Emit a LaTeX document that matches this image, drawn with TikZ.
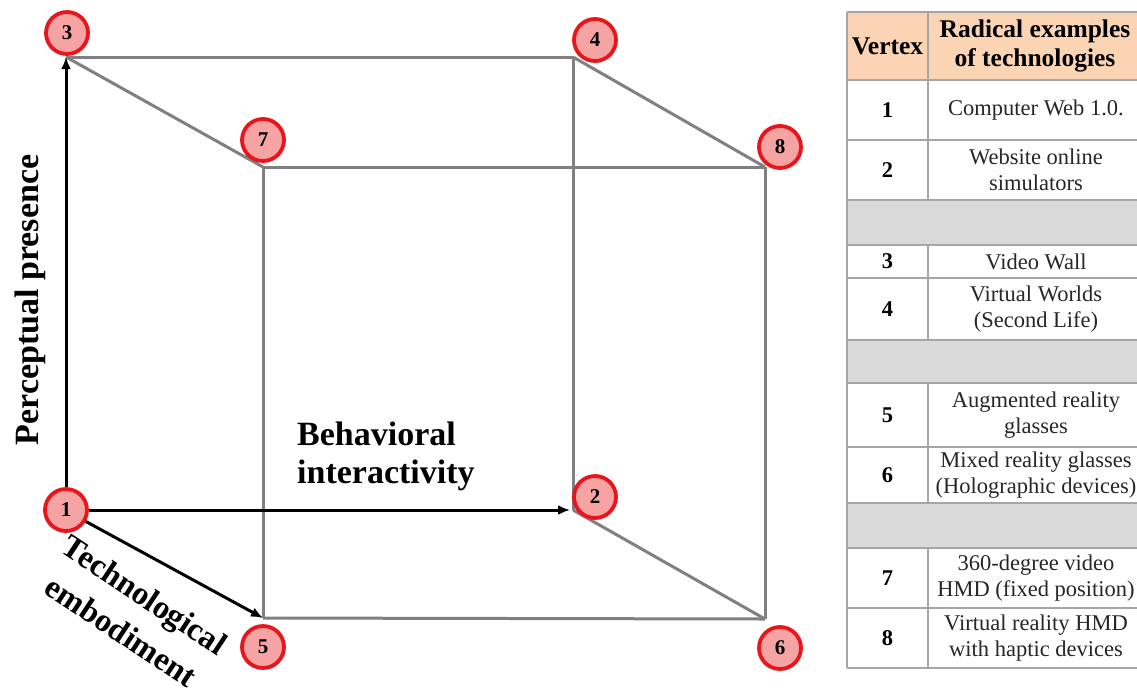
\documentclass[tikz,border=0pt]{standalone}
\usepackage{fontspec}
\setmainfont{Liberation Serif}
\usetikzlibrary{arrows.meta}
\definecolor{circred}{HTML}{E8161C}
\definecolor{circfill}{HTML}{F5A3A3}
\definecolor{edgegray}{HTML}{808080}
\definecolor{headfill}{HTML}{FBD4B4}
\definecolor{rowgray}{HTML}{DADADA}
\definecolor{rulegray}{HTML}{A6A6A6}
\begin{document}
\begin{tikzpicture}[x=1pt,y=-1pt,
 vc/.style={circle,draw=circred,line width=3.8pt,fill=circfill,minimum size=42pt,inner sep=0pt,font=\bfseries\fontsize{21}{21}\selectfont},
 edge/.style={draw=edgegray,line width=3pt},
 axis/.style={draw=black,line width=3pt,-{Latex[length=12pt,width=10pt]}},
 lab/.style={font=\bfseries\fontsize{34}{38}\selectfont,inner sep=0pt},
 cell/.style={font=\fontsize{22.5}{26}\selectfont,align=center,text=black!85,inner sep=0pt},
 num/.style={font=\bfseries\fontsize{22.5}{26}\selectfont,inner sep=0pt},
 head/.style={font=\bfseries\fontsize{25.5}{29}\selectfont,align=center,inner sep=0pt},
 rule/.style={draw=rulegray,line width=1.5pt}
]
\useasboundingbox (0,0) rectangle (1137,691);
% cube corners
\coordinate (v1) at (66,510);
\coordinate (v2) at (573,510);
\coordinate (v3) at (66,57);
\coordinate (v4) at (573,57);
\coordinate (v5) at (263,618);
\coordinate (v6) at (765,619);
\coordinate (v7) at (263,167);
\coordinate (v8) at (765,167);
% gray edges
\draw[edge] (v3) -- (v4);
\draw[edge] (v4) -- (v2);
\draw[edge] (v3) -- (v7);
\draw[edge] (v4) -- (v8);
\draw[edge] (v7) -- (v8);
\draw[edge] (v7) -- (v5);
\draw[edge] (v8) -- (v6);
\draw[edge] (v5) -- (v6);
\draw[edge] (v2) -- (v6);
% vertex circles
\node[vc] (c1) at (66,510) {1};
\node[vc] (c2) at (595,497) {2};
\node[vc] (c3) at (67,33) {3};
\node[vc] (c4) at (595,40) {4};
\node[vc] (c5) at (263,647) {5};
\node[vc] (c6) at (780,648) {6};
\node[vc] (c7) at (263,140) {7};
\node[vc] (c8) at (780,147) {8};
% axes
\draw[axis] (c1.north) -- (v3);
\draw[axis] (c1.east) -- ([xshift=-3pt]v2);
\draw[axis] (c1.-30) -- (v5);
% axis labels
\node[lab,rotate=90,anchor=base] (lp) at (38,300) {Perceptual presence};
\node[lab,align=left,anchor=base west] (lb) at (297,483) {Behavioral\\interactivity};
\node[lab,align=center,rotate=-33.5,font=\bfseries\fontsize{32.5}{43}\selectfont] (lt) at (133,613) {Technological\\embodiment};
% table
\fill[headfill] (847,12) rectangle (1137,80);
\fill[rowgray] (847,200) rectangle (1137,245);
\fill[rowgray] (847,340) rectangle (1137,383);
\fill[rowgray] (847,503) rectangle (1137,548);
\foreach \yy in {12,80,140,200,245,278,340,383,447,503,548,608,668}
  \draw[rule] (847,\yy) -- (1137,\yy);
\draw[rule] (847,12) -- (847,668);
\draw[rule] (928,12) -- (928,200);
\draw[rule] (928,245) -- (928,340);
\draw[rule] (928,383) -- (928,503);
\draw[rule] (928,548) -- (928,668);
\node[head] (hv) at (887.5,46) {Vertex};
\node[head] (hr) at (1035,46) {Radical examples\\of technologies};
\node[num] (n1) at (887.5,110) {1};
\node[cell] (t1) at (1036,110) {Computer Web 1.0.};
\node[num] (n2) at (887.5,170) {2};
\node[cell] (t2) at (1036,170) {Website online\\simulators};
\node[num] (n3) at (887.5,261.5) {3};
\node[cell] (t3) at (1036,261.5) {Video Wall};
\node[num] (n4) at (887.5,309) {4};
\node[cell] (t4) at (1036,309) {Virtual Worlds\\(Second Life)};
\node[num] (n5) at (887.5,415) {5};
\node[cell] (t5) at (1036,415) {Augmented reality\\glasses};
\node[num] (n6) at (887.5,475) {6};
\node[cell] (t6) at (1036,475) {Mixed reality glasses\\(Holographic devices)};
\node[num] (n7) at (887.5,578) {7};
\node[cell] (t7) at (1036,578) {360-degree video\\HMD (fixed position)};
\node[num] (n8) at (887.5,638) {8};
\node[cell] (t8) at (1036,638) {Virtual reality HMD\\with haptic devices};
\end{tikzpicture}
\end{document}
